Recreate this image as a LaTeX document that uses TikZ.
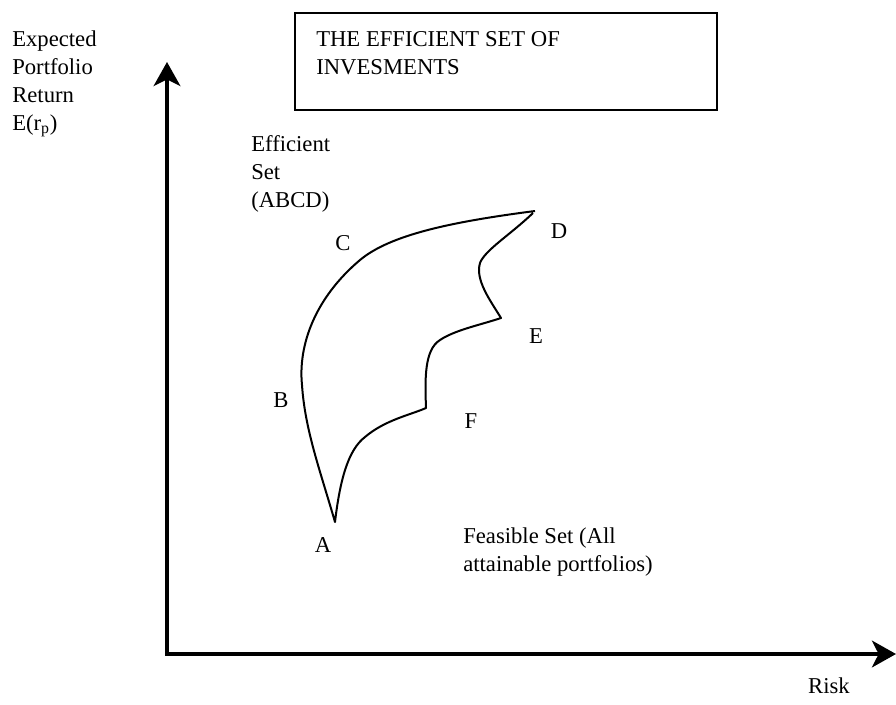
\documentclass[tikz,border=0pt]{standalone}
\usepackage{fontspec}
\setmainfont{Liberation Serif}
\usetikzlibrary{arrows.meta}
\tikzset{
  >=Stealth,
  axis/.style={line width=3pt, line join=miter,
    {Stealth[length=18pt,width=20pt,inset=5pt]}-{Stealth[length=18pt,width=20pt,inset=5pt]}},
  frontier/.style={line width=1.5pt, line join=round},
  lbl/.style={inner sep=0pt, font=\fontsize{17}{21}\selectfont},
  txt/.style={lbl, anchor=base west, align=left},
}

\begin{document}
\begin{tikzpicture}[x=0.75pt, y=-0.75pt]
\useasboundingbox (0,0) rectangle (896,704);

% axes
\draw[axis] (167,62) -- (167,654) -- (896,654);

% multi-line texts sit on the baseline of their last line
\node[txt] (ylab) at (12,130) {Expected\\Portfolio\\Return\\E(r\textsubscript{p})};
\node[lbl] (xlab) at (829,686) {Risk};

% title
\draw[line width=1pt] (295,13) rectangle (717,110);
\node[txt] (title) at (316,74) {THE EFFICIENT SET OF\\INVESMENTS};

\node[txt] (eff) at (251,207) {Efficient\\Set\\(ABCD)};
\node[txt] (feas) at (463,571) {Feasible Set (All\\attainable portfolios)};

% feasible region
\draw[frontier] (535,211) .. controls (450,222) and (390,235) .. (360,260)
  .. controls (315,298) and (298,345) .. (302,385)
  .. controls (305,430) and (320,470) .. (335,522)
  .. controls (340,480) and (348,450) .. (365,437)
  .. controls (385,420) and (410,415) .. (426,408)
  .. controls (425,380) and (424,350) .. (440,340)
  .. controls (455,330) and (480,325) .. (501,318)
  .. controls (490,300) and (475,280) .. (480,263)
  .. controls (485,250) and (510,235) .. (533,213);

\node[lbl] (A) at (323,545) {A};
\node[lbl] (B) at (281,400) {B};
\node[lbl] (C) at (343,243) {C};
\node[lbl] (D) at (559,231) {D};
\node[lbl] (E) at (536,336) {E};
\node[lbl] (F) at (471,421) {F};

\end{tikzpicture}
\end{document}
